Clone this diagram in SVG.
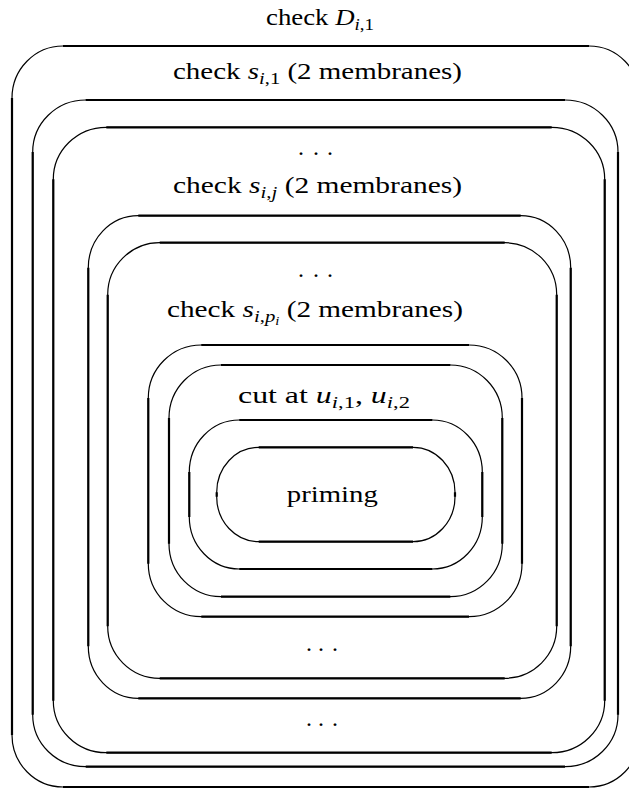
<svg xmlns="http://www.w3.org/2000/svg" width="629" height="789" viewBox="0 0 629 789">
<style>
.arc{fill:none;stroke:#000;stroke-width:1.2}
.side{fill:none;stroke:#000;stroke-width:2.2}
.lbl{font-family:"Liberation Serif","Times New Roman",serif;font-size:24px;fill:#000;text-anchor:middle}
.dots{font-family:"Liberation Serif","Times New Roman",serif;font-size:24px;fill:#000}
.mi{font-style:italic}
.sub{font-size:17px}
.subsub{font-size:12px}
</style>
<rect width="629" height="789" fill="#fff"/>
<g id="check-D">
  <rect class="arc" x="12" y="46" width="628" height="741" rx="51" ry="52"/>
  <path class="side" d="M63 46H589M640 98V735M589 787H63M12 735V98"/>
  <text class="lbl" x="320" y="25" textLength="108" lengthAdjust="spacingAndGlyphs">check <tspan class="mi">D</tspan><tspan class="sub" dy="5"><tspan class="mi">i</tspan>,1</tspan></text>
</g>
<g id="check-s1">
  <rect class="arc" x="32.7" y="100" width="585.3" height="666.7" rx="53" ry="52"/>
  <path class="side" d="M85.7 100H565M618 152V714.7M565 766.7H85.7M32.7 714.7V152"/>
  <rect class="arc" x="53.3" y="127.3" width="551.4" height="625.4" rx="53" ry="52"/>
  <path class="side" d="M106.3 127.3H551.7M604.7 179.3V700.7M551.7 752.7H106.3M53.3 700.7V179.3"/>
  <text class="lbl" x="317.5" y="79" textLength="289" lengthAdjust="spacingAndGlyphs">check <tspan class="mi">s</tspan><tspan class="sub" dy="5"><tspan class="mi">i</tspan>,1</tspan><tspan dy="-5"> (2 membranes)</tspan></text>
</g>
<g id="ellipsis-1">
  <text class="dots" x="298 313 327" y="155">...</text>
  <text class="dots" x="306 318 332" y="726">...</text>
</g>
<g id="check-sj">
  <rect class="arc" x="88.3" y="215.7" width="482.4" height="482.6" rx="50" ry="52"/>
  <path class="side" d="M138.3 215.7H520.7M570.7 267.7V646.3M520.7 698.3H138.3M88.3 646.3V267.7"/>
  <rect class="arc" x="107.7" y="242.7" width="449" height="435.6" rx="52" ry="52"/>
  <path class="side" d="M159.7 242.7H504.7M556.7 294.7V626.3M504.7 678.3H159.7M107.7 626.3V294.7"/>
  <text class="lbl" x="317.5" y="193" textLength="289" lengthAdjust="spacingAndGlyphs">check <tspan class="mi">s</tspan><tspan class="sub" dy="5"><tspan class="mi">i</tspan>,<tspan class="mi">j</tspan></tspan><tspan dy="-5"> (2 membranes)</tspan></text>
</g>
<g id="ellipsis-2">
  <text class="dots" x="298 313 327" y="277">...</text>
  <text class="dots" x="306 318 332" y="651">...</text>
</g>
<g id="check-spi">
  <rect class="arc" x="148.3" y="345" width="373.7" height="271.7" rx="53" ry="53"/>
  <path class="side" d="M201.3 345H469M522 398V563.7M469 616.7H201.3M148.3 563.7V398"/>
  <rect class="arc" x="169" y="365" width="333.3" height="231.7" rx="52" ry="53"/>
  <path class="side" d="M221 365H450.3M502.3 418V543.7M450.3 596.7H221M169 543.7V418"/>
  <text class="lbl" x="315" y="317" textLength="296" lengthAdjust="spacingAndGlyphs">check <tspan class="mi">s</tspan><tspan class="sub" dy="5"><tspan class="mi">i</tspan>,<tspan class="mi">p</tspan></tspan><tspan class="subsub mi" dy="3">i</tspan><tspan dy="-8"> (2 membranes)</tspan></text>
</g>
<g id="cut">
  <rect class="arc" x="189.3" y="420" width="293" height="149" rx="50" ry="52"/>
  <path class="side" d="M239.3 420H432.3M482.3 472V517M432.3 569H239.3M189.3 517V472"/>
  <text class="lbl" x="324" y="403" textLength="172" lengthAdjust="spacingAndGlyphs">cut at <tspan class="mi">u</tspan><tspan class="sub" dy="5"><tspan class="mi">i</tspan>,1</tspan><tspan dy="-5">, </tspan><tspan class="mi">u</tspan><tspan class="sub" dy="5"><tspan class="mi">i</tspan>,2</tspan></text>
</g>
<g id="priming">
  <rect class="arc" x="216.7" y="447.3" width="238.3" height="94.4" rx="42" ry="45"/>
  <path class="side" d="M258.7 447.3H413M455 492.3V496.7M413 541.7H258.7M216.7 496.7V492.3"/>
  <text class="lbl" x="332.3" y="502" textLength="91" lengthAdjust="spacingAndGlyphs">priming</text>
</g>
</svg>
